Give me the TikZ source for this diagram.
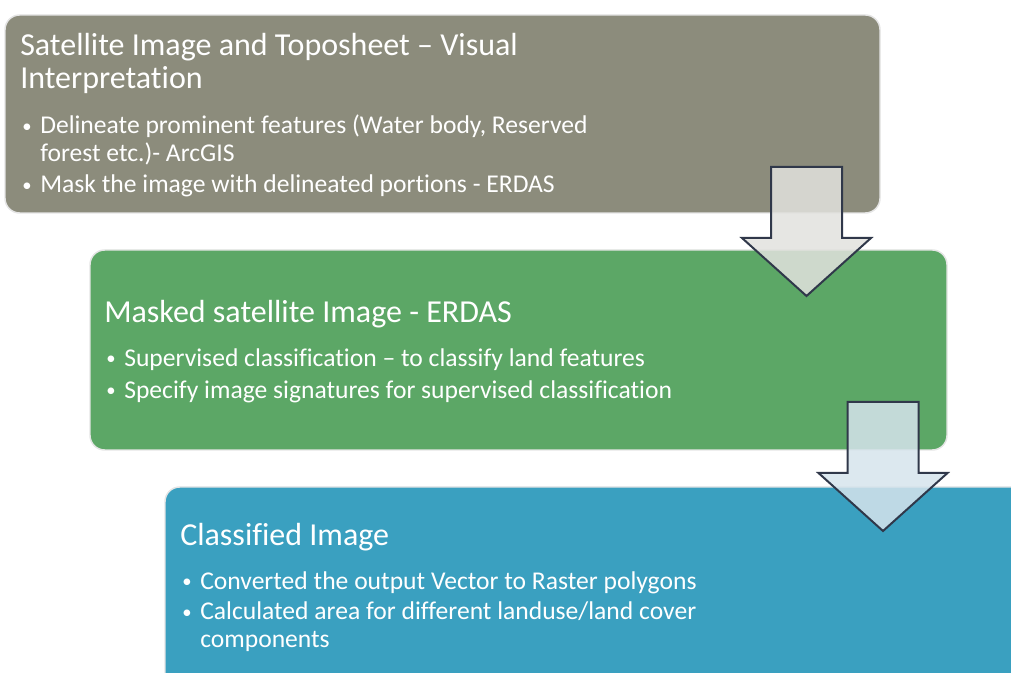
\documentclass[tikz,border=0pt]{standalone}
\usepackage{fontspec}
\setmainfont{Carlito}[Ligatures=NoCommon]
\usetikzlibrary{fit}

\definecolor{stagegray}{HTML}{8C8C7C}
\definecolor{stagegreen}{HTML}{5CA766}
\definecolor{stageblue}{HTML}{3AA0C0}
\definecolor{arrowline}{HTML}{30384A}
\definecolor{arrowgray}{HTML}{E2E2DE}
\definecolor{arrowblue}{HTML}{D6E4EC}

% bullet and hanging indent for the item lines
\newcommand{\bmark}{\makebox[13.5pt][l]{\raisebox{1pt}{\fontsize{14}{14}\selectfont\textbullet}}}
\newcommand{\bcont}{\hspace*{13.5pt}}

\begin{document}
\begin{tikzpicture}[
  x=0.75pt,y=-0.75pt,
  stagebox/.style={draw=white!90!black,line width=1.1pt,rounded corners=11pt,
                   inner sep=0pt},
  headtext/.style={anchor=north west,inner sep=0pt,align=left,text=white,
                   font=\fontsize{24}{25}\selectfont},
  itemtext/.style={anchor=north west,inner sep=0pt,align=left,text=white,
                   font=\fontsize{19.2}{21}\selectfont},
  flowarrow/.style={draw=arrowline,line width=1.5pt,fill opacity=0.85,
                    line join=miter},
]
\useasboundingbox (0,0) rectangle (1011,673);
\clip (0,0) rectangle (1011,673);

% the three stages
\node[stagebox,fill=stagegray,fit={(5,15) (880,213)}] (interp) {};
\node[stagebox,fill=stagegreen,fit={(90,250) (947,450)}] (masked) {};
\node[stagebox,fill=stageblue,fit={(165,487) (1040,700)}] (classed) {};

\node[headtext] (interphead) at (20,33)
  {Satellite Image and Toposheet -- Visual\\Interpretation};
\node[itemtext] (interpitems) at (22,115)
  {\bmark Delineate prominent features (Water body, Reserved\\
   \bcont forest etc.)- ArcGIS\\[2pt]
   \bmark Mask the image with delineated portions - ERDAS};

\node[headtext] (maskedhead) at (104,300)
  {Masked satellite Image - ERDAS};
\node[itemtext] (maskeditems) at (106,348)
  {\bmark Supervised classification -- to classify land features\\[3pt]
   \bmark Specify image signatures for supervised classification};

\node[headtext] (classedhead) at (180,523)
  {Classified Image};
\node[itemtext] (classeditems) at (182,571)
  {\bmark Converted the output Vector to Raster polygons\\[2pt]
   \bmark Calculated area for different landuse/land cover\\
   \bcont components};

% block arrows between the stages
\foreach \cx/\ty/\fc in {806.5/167/arrowgray, 883/402/arrowblue}
  \draw[flowarrow,fill=\fc]
    (\cx-35.5,\ty) -- (\cx+35.5,\ty) -- (\cx+35.5,\ty+71)
    -- (\cx+64.5,\ty+71) -- (\cx,\ty+129) -- (\cx-64.5,\ty+71)
    -- (\cx-35.5,\ty+71) -- cycle;

\end{tikzpicture}
\end{document}
